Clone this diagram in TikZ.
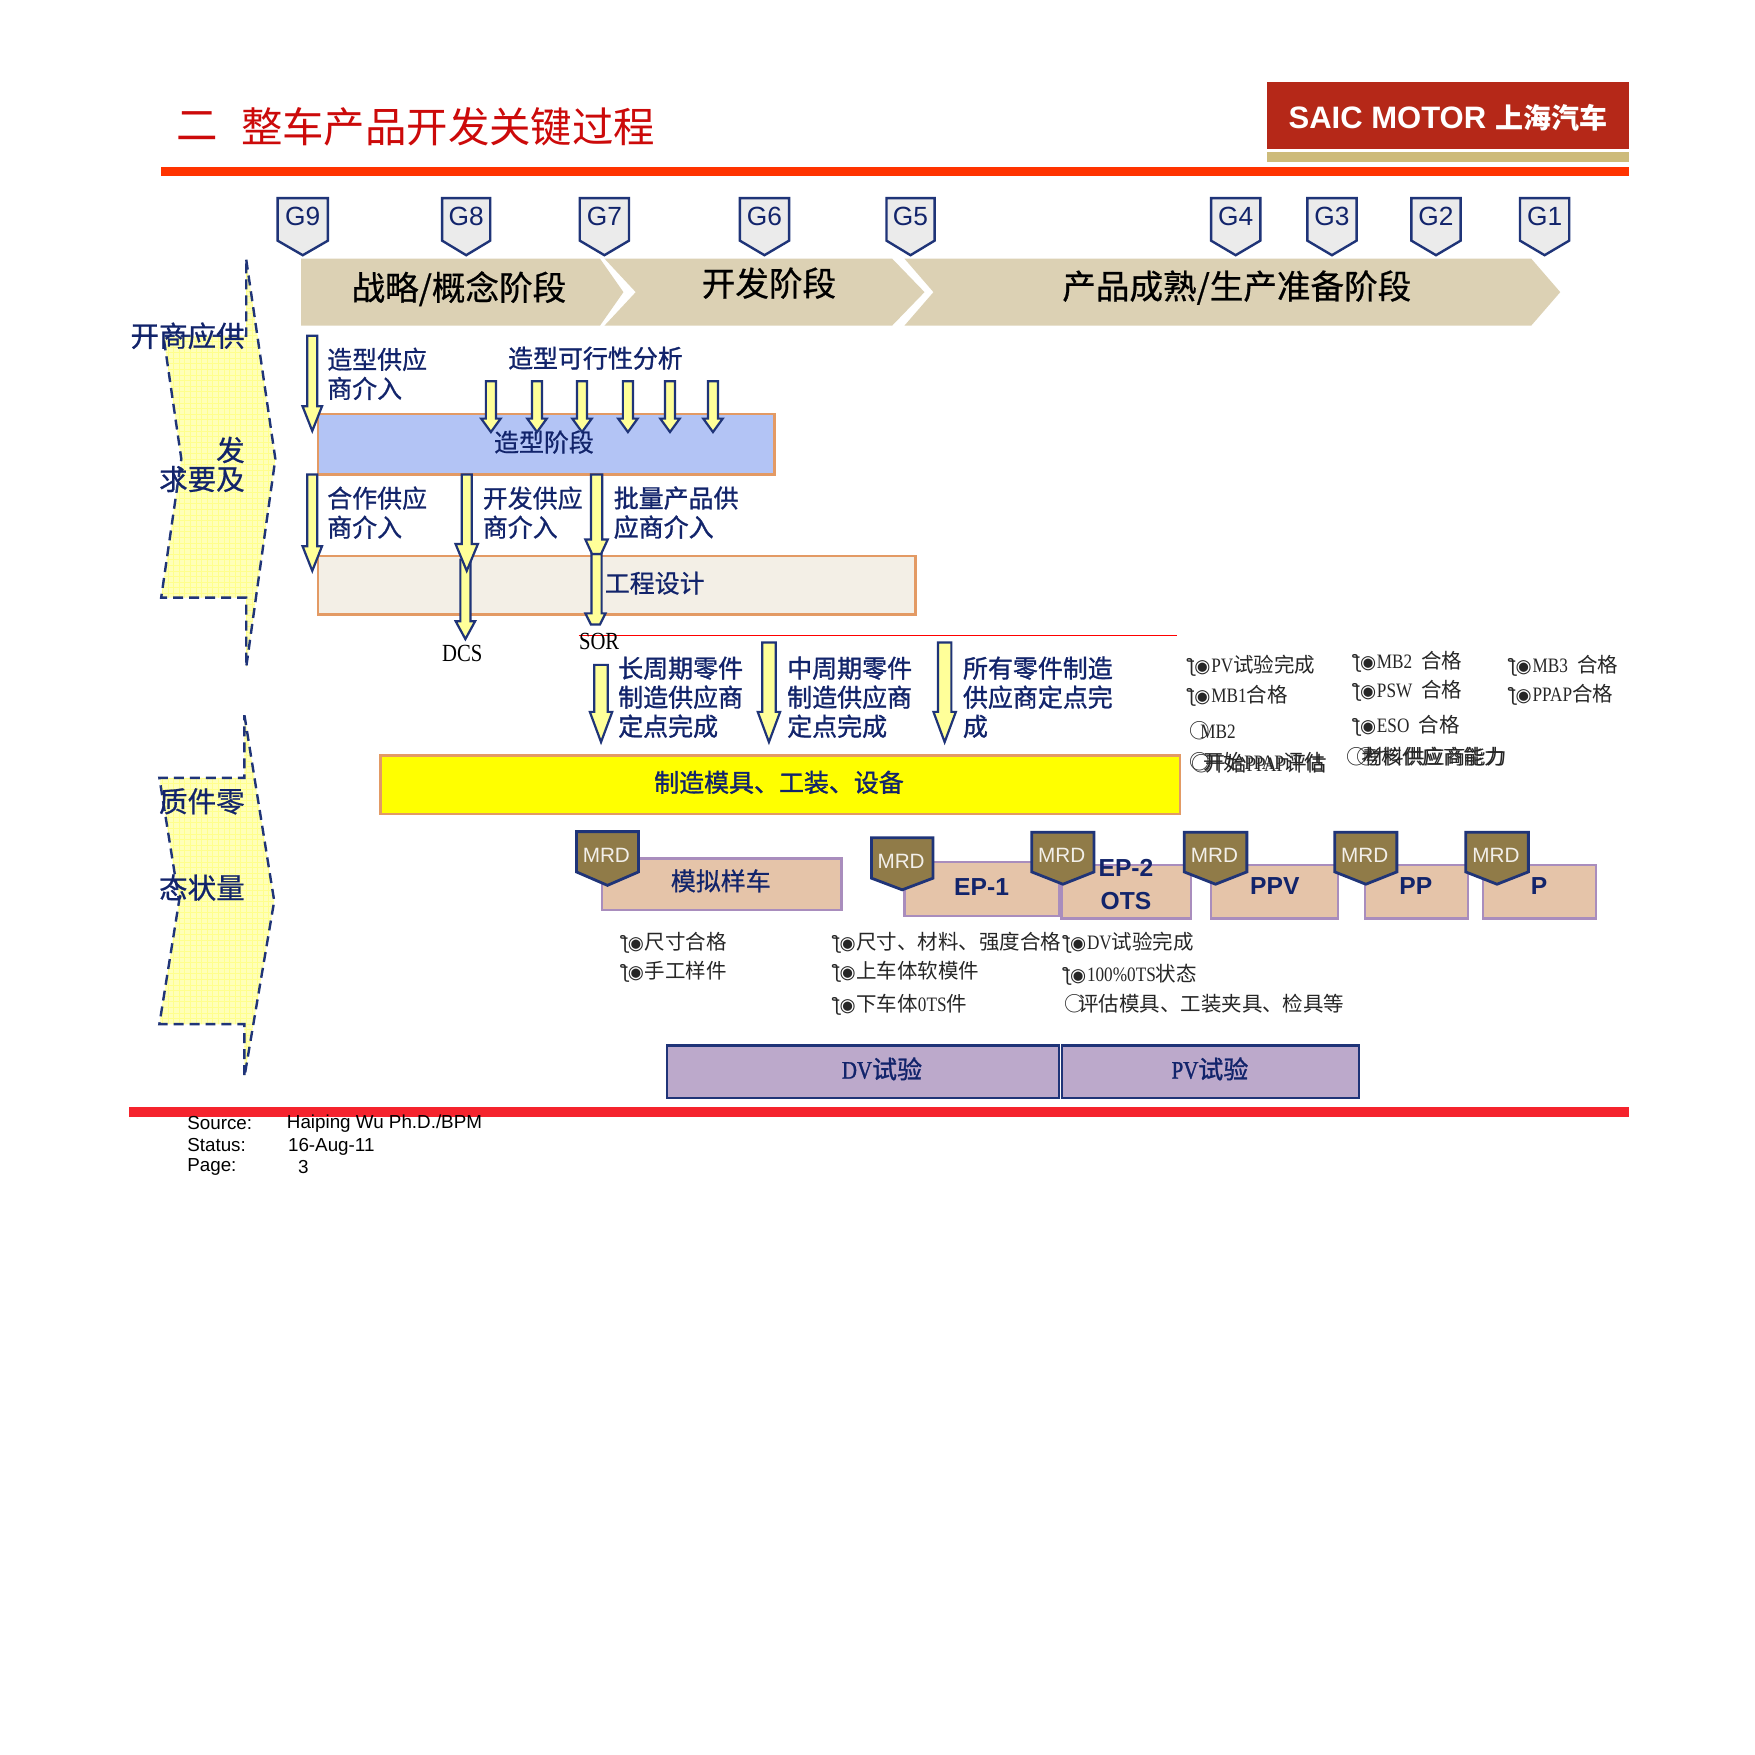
\documentclass[tikz,border=0pt]{standalone}
\usepackage{fontspec}
\setmainfont{Noto Sans CJK SC}
\newfontfamily\cjkm[FakeBold=0.7]{Noto Sans CJK SC}
\newfontfamily\cjkh[FakeBold=1.2]{Noto Sans CJK SC}
\newfontfamily\lib{Liberation Sans}
\newfontfamily\srf[FakeStretch=0.84]{Liberation Serif}
\newfontfamily\srfb[FakeStretch=0.84,FakeBold=1.2]{Liberation Serif}
\newfontfamily\djv{DejaVu Sans}
\newcommand\fz[2][]{\fontsize{\fpeval{#2*0.5597}}{\fpeval{#2*0.5597*1.18}}\selectfont}
\newcommand\fzl[2]{\fontsize{\fpeval{#1*0.5597}}{\fpeval{#2*0.5597}}\selectfont}
\definecolor{navy}{HTML}{12246B}
\definecolor{edge}{HTML}{1F3478}
\definecolor{tan}{HTML}{DCD1B4}
\definecolor{gatefill}{HTML}{EBEBEB}
\definecolor{yel}{HTML}{FFFF99}
\definecolor{sidefill}{HTML}{FFFFB8}
\definecolor{sidegrid}{HTML}{FFFF8C}
\definecolor{pureyellow}{HTML}{FFFF00}
\definecolor{orangeedge}{HTML}{E39A64}
\definecolor{peach}{HTML}{E5C4A9}
\definecolor{purpedge}{HTML}{A98DBD}
\definecolor{mrdfill}{HTML}{907B48}
\definecolor{mauve}{HTML}{BCA9CB}
\definecolor{titlered}{HTML}{CC0A0A}
\definecolor{ruler}{HTML}{FF3300}
\newcommand\bul{{\djv\fontsize{\fpeval{16.5*0.5597}}{10}\selectfont ƪ\kern-.05em◉}\kern.04em}
\newcommand\barr[6]{\draw[blockarrow] ({#1-#5},#2) -- ({#1+#5},#2) -- ({#1+#5},#3) -- ({#1+#6},#3) -- (#1,#4) -- ({#1-#6},#3) -- ({#1-#5},#3) -- cycle;}
\newcommand\gate[4]{\draw[gateshape] (#2,177) -- (#3,177) -- (#3,215) -- ({(#2+#3)/2},228) -- (#2,215) -- cycle;
  \node[gatelabel] (#1) at ({(#2+#3)/2},193) {#4};}
\newcommand\mrd[6]{\draw[mrdshape] (#2,#4) -- (#3,#4) -- (#3,#5) -- ({(#2+#3)/2},#6) -- (#2,#5) -- cycle;
  \node[mrdlabel] (#1) at ({(#2+#3)/2-1},{#4+21}) {MRD};}
\newcommand\peachbox[5]{\draw[peachstyle] (#2,#3) rectangle (#4,#5) coordinate (#1);}
\newcommand\bl[4]{\node[smalltext] (#1) at (#2,#3) {\bul#4};}
\newcommand\pl[4]{\node[smalltext] (#1) at (#2,#3) {#4};}
\newcommand\ltn[1]{{\srf #1}}
\tikzset{
  x=0.5597pt,y=-0.5597pt,
  blockarrow/.style={fill=yel,draw=edge,line width=1.1pt,line join=miter},
  gateshape/.style={fill=gatefill,draw=edge,line width=1.2pt},
  gatelabel/.style={inner sep=0,text=navy,font={\lib\fz{23.5}}},
  mrdshape/.style={fill=mrdfill,draw=edge,line width=1.4pt},
  mrdlabel/.style={inner sep=0,text=white!88!mrdfill,font={\lib\fz{18.5}}},
  peachstyle/.style={fill=peach,draw=purpedge,line width=1.2pt},
  phase/.style={fill=tan},
  phasetext/.style={inner sep=0,text=black,font={\cjkm\fz{30}}},
  navytext/.style={inner sep=0,anchor=west,align=left,text=navy,font={\cjkm\fzl{22.3}{26}}},
  boldtext/.style={inner sep=0,text=navy,font={\cjkh\fz{22.3}}},
  sidetext/.style={inner sep=0,anchor=east,text=navy,font={\cjkm\fz{25.5}}},
  smalltext/.style={inner sep=0,anchor=west,text=black!85,font={\fz{18.3}}},
  latinbold/.style={inner sep=0,text=navy,font={\lib\bfseries\fz{22}}},
  footer/.style={inner sep=0,anchor=west,text=black,font={\lib\fz{16.8}}},
  sideshape/.style={draw=edge,line width=1.2pt,dash pattern=on 5pt off 3pt},
  orangebox/.style={draw=orangeedge,line width=1.2pt},
}
\begin{document}
\begin{tikzpicture}
\useasboundingbox (0,0) rectangle (1568,1568);
\fill[white] (0,0) rectangle (1568,1568);
% header
\node[inner sep=0,text=titlered,font={\fz{37}}] (t1) at (176,113) {二};
\node[inner sep=0,anchor=west,text=titlered,font={\fz{37}}] (t2) at (215,113) {整车产品开发关键过程};
\fill[fill=ruler] (144,149) rectangle (1455,157);
\fill[fill={rgb,255:red,181;green,40;blue,24}] (1132,73) rectangle (1455,133);
\fill[fill={rgb,255:red,205;green,187;blue,122}] (1132,136) rectangle (1455,145);
\node[inner sep=0,anchor=west,text=white,font={\lib\bfseries\fz{27.7}}] (logo) at (1151,105) {SAIC MOTOR};
\node[inner sep=0,anchor=west,text=white,font={\bfseries\fz{25}}] (logocn) at (1336,105) {上海汽车};
% gates
\gate{g9}{248}{293}{G9}
\gate{g8}{395}{438}{G8}
\gate{g7}{518}{562}{G7}
\gate{g6}{661}{705}{G6}
\gate{g5}{792}{835}{G5}
\gate{g4}{1082}{1126}{G4}
\gate{g3}{1168}{1212}{G3}
\gate{g2}{1261}{1305}{G2}
\gate{g1}{1358}{1402}{G1}
% phases
\fill[phase] (269,231) -- (536,231) -- (557,261) -- (536,291) -- (269,291) -- cycle;
\fill[phase] (540,231) -- (797,231) -- (826,261) -- (797,291) -- (540,291) -- (568,261) -- cycle;
\fill[phase] (808,231) -- (1368,231) -- (1394,261) -- (1368,291) -- (808,291) -- (834,261) -- cycle;
\node[phasetext] (p1) at (410,258) {战略/概念阶段};
\node[phasetext] (p2) at (687,253) {开发阶段};
\node[phasetext] (p3) at (1105,257) {产品成熟/生产准备阶段};
% side arrows
\begin{scope}
\clip (220,232) -- (246,410) -- (220,596) -- (220,534) -- (144,534) -- (162,410) -- (146,300) -- (220,300) -- cycle;
\fill[sidefill] (140,230) rectangle (250,600);
\foreach \g in {140,145,...,250} \draw[sidegrid,line width=.3pt] (\g,230) -- (\g,600);
\foreach \g in {230,235,...,600} \draw[sidegrid,line width=.3pt] (140,\g) -- (250,\g);
\end{scope}
\draw[sideshape] (220,232) -- (246,410) -- (220,596) -- (220,534) -- (144,534) -- (162,410) -- (146,300) -- (220,300) -- cycle;
\begin{scope}
\clip (218.4,639) -- (245,805) -- (218.4,962) -- (218.4,915) -- (142.4,915) -- (160,805) -- (142.4,695) -- (218.4,695) -- cycle;
\fill[sidefill] (140,635) rectangle (250,965);
\foreach \g in {140,145,...,250} \draw[sidegrid,line width=.3pt] (\g,635) -- (\g,965);
\foreach \g in {635,640,...,965} \draw[sidegrid,line width=.3pt] (140,\g) -- (250,\g);
\end{scope}
\draw[sideshape] (218.4,639) -- (245,805) -- (218.4,962) -- (218.4,915) -- (142.4,915) -- (160,805) -- (142.4,695) -- (218.4,695) -- cycle;
\node[sidetext] (s1) at (219,300) {开商应供};
\node[sidetext] (s2) at (219,402) {发};
\node[sidetext] (s3) at (219,428) {求要及};
\node[sidetext] (s4) at (219,716) {质件零};
\node[sidetext] (s5) at (219,793) {态状量};
% blue box and arrows
\draw[orangebox,fill={rgb,255:red,179;green,196;blue,245}] (284,370) rectangle (692,424);
\barr{279}{300}{363}{385}{4.5}{8.7}
\barr{438.6}{340.6}{374}{386}{4.5}{8.7}
\barr{479.8}{340.6}{374}{386}{4.5}{8.7}
\barr{520}{340.6}{374}{386}{4.5}{8.7}
\barr{561}{340.6}{374}{386}{4.5}{8.7}
\barr{598.6}{340.6}{374}{386}{4.5}{8.7}
\barr{637}{340.6}{374}{386}{4.5}{8.7}
\node[inner sep=0,text=navy,font={\cjkm\fz{22.3}}] (stylestage) at (486,395) {造型阶段};
\node[navytext] (l1) at (292,334) {造型供应\\商介入};
\node[inner sep=0,text=navy,font={\cjkh\fz{22.3}}] (l2) at (532,320) {造型可行性分析};
% beige box
\draw[orangebox,fill={rgb,255:red,243;green,239;blue,230}] (284,497) rectangle (818,549);
\barr{279}{424}{488}{510}{4.5}{8.7}
\barr{415.8}{500}{555}{571}{4.5}{8.7}
\barr{417}{424}{486}{510}{4.5}{10}
\draw[blockarrow] (528.5,495) -- (537.5,495) -- (537.5,548) -- (541,548) -- (536,558) -- (528,558) -- (523,548) -- (528.5,548) -- cycle;
\draw[blockarrow] (528,424) -- (538,424) -- (538,482) -- (543,482) -- (537,495) -- (529,495) -- (523,482) -- (528,482) -- cycle;
\node[inner sep=0,anchor=west,text=navy,font={\cjkm\fz{22.3}}] (eng) at (540,521) {工程设计};
\node[navytext] (l3) at (292,458) {合作供应\\商介入};
\node[navytext] (l4) at (431,458) {开发供应\\商介入};
\node[navytext,font={\cjkh\fzl{22.3}{26}}] (l5) at (548,458) {批量产品供\\应商介入};
% red line, labels
\coordinate (rl1) at (517,568);
\coordinate (rl2) at (1052,568);
\draw[red,line width=.6pt] (rl1) -- (rl2);
\node[inner sep=0,text=black,font={\srf\fz{22}}] (dcs) at (413,584) {DCS};
\node[inner sep=0,anchor=west,text=black,font={\srf\fz{22}}] (sor) at (517,573) {SOR};
% manufacturing arrows
\barr{537}{594}{636}{663}{6}{10}
\barr{687}{574}{636}{663}{6}{10}
\barr{844}{574}{636}{663}{6}{10}
\node[navytext,font={\cjkh\fzl{22.3}{26}}] (m1) at (552,623) {长周期零件\\制造供应商\\定点完成};
\node[navytext,font={\cjkh\fzl{22.3}{26}}] (m2) at (703,623) {中周期零件\\制造供应商\\定点完成};
\node[navytext,font={\cjkh\fzl{22.3}{26}}] (m3) at (860,623) {所有零件制造\\供应商定点完\\成};
% yellow box
\draw[orangebox,fill=pureyellow] (340,675) rectangle (1054,727);
\node[inner sep=0,text=navy,font={\cjkh\fz{22.3}}] (tool) at (696,699) {制造模具、工装、设备};
% small lists
\bl{a1}{1062}{595}{\ltn{PV}试验完成}
\bl{a2}{1062}{622}{\ltn{MB1}合格}
\pl{a3}{1062}{653}{○\kern-.45em\ltn{MB2}}
\pl{a4}{1062}{681}{○\kern-.3em 开始\ltn{PPAP}评估}
\pl{a5}{1064}{682}{○\kern-.3em 开始\ltn{PPAP}评估}
\bl{b1}{1210}{591}{\ltn{MB2}\ \ 合格}
\bl{b2}{1210}{617}{\ltn{PSW}\ \ 合格}
\bl{b3}{1210}{648}{\ltn{ESO}\ \ 合格}
\pl{b4}{1203}{676}{○\kern-.3em 考核供应商能力}
\pl{b5}{1212}{676}{○\kern-.7em 材料供应商能力}
\bl{c1}{1349}{595}{\ltn{MB3}\ \ 合格}
\bl{c2}{1349}{621}{\ltn{PPAP}合格}
\bl{d1}{556}{842}{尺寸合格}
\bl{d2}{556}{868}{手工样件}
\bl{e1}{745}{842}{尺寸、材料、强度合格}
\bl{e2}{745}{868}{上车体软模件}
\bl{e3}{745}{898}{下车体\ltn{0TS}件}
\bl{f1}{951}{842}{\ltn{DV}试验完成}
\bl{f2}{951}{871}{\ltn{100\%0TS}状态}
\pl{f3}{951}{897}{○\kern-.35em 评估模具、工装夹具、检具等}
% peach boxes
\peachbox{bx1}{538}{767}{752}{813}
\peachbox{bx2}{808}{770}{946.5}{818.6}
\peachbox{bx3}{948.5}{773}{1064}{820.6}
\peachbox{bx4}{1082}{773}{1195.5}{820.6}
\peachbox{bx5}{1219.6}{773}{1311.6}{820.6}
\peachbox{bx6}{1325}{773}{1426}{820.6}
\node[boldtext,font={\cjkm\fz{22.3}}] (v1) at (644,787) {模拟样车};
\node[latinbold] (v2) at (877,792.5) {EP-1};
\node[latinbold] (v3) at (1006,775) {EP-2};
\node[latinbold] (v4) at (1006,805) {OTS};
\node[latinbold] (v5) at (1139,792) {PPV};
\node[latinbold] (v6) at (1265,792) {PP};
\node[latinbold] (v7) at (1375,792) {P};
% MRD
\mrd{r1}{515}{570.5}{743}{779}{791}
\mrd{r2}{778.6}{833.6}{748.5}{784.6}{795}
\mrd{r3}{921.8}{977.5}{743.6}{779}{790}
\mrd{r4}{1058}{1114}{743.6}{779}{790}
\mrd{r5}{1192.6}{1248}{743.6}{779}{790}
\mrd{r6}{1309.5}{1365.5}{743.6}{779}{790}
% tests
\draw[fill=mauve,draw=edge,line width=1.2pt] (596,934) rectangle (946,981);
\draw[fill=mauve,draw=edge,line width=1.2pt] (949,934) rectangle (1214,981);
\node[boldtext] (dv) at (788,955) {{\srfb DV}试验};
\node[boldtext] (pv) at (1081,955) {{\srfb PV}试验};
% footer
\fill[fill={rgb,255:red,245;green,35;blue,45}] (115,989) rectangle (1455,998);
\node[footer] (f1) at (167,1003) {Source:};
\node[footer] (f2) at (256,1004) {Haiping Wu Ph.D./BPM};
\node[footer] (f3) at (167,1023) {Status:};
\node[footer] (f4) at (257,1025) {16-Aug-11};
\node[footer] (f5) at (167,1043) {Page:};
\node[footer] (f6) at (266,1043) {3};
\end{tikzpicture}
\end{document}
